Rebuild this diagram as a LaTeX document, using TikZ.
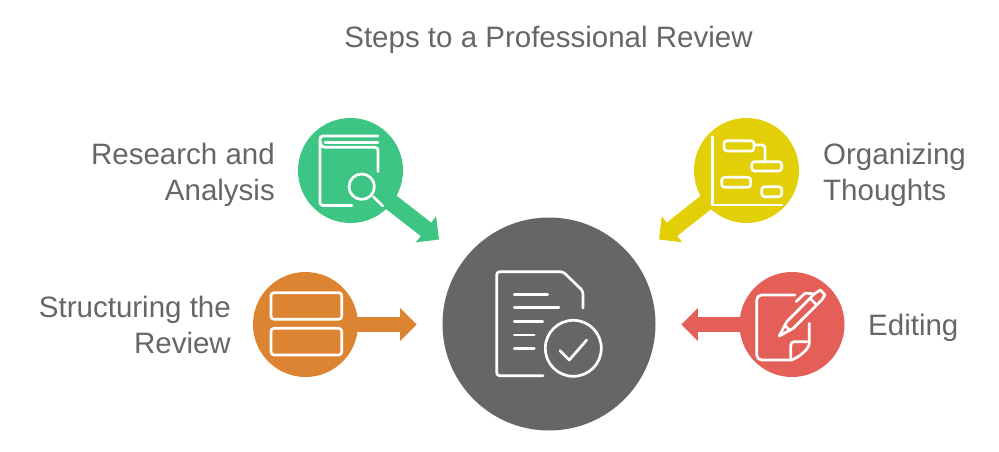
\documentclass[tikz,border=0pt]{standalone}
\usepackage{fontspec}
\setmainfont{Liberation Sans}
\usetikzlibrary{arrows.meta}
\definecolor{cgreen}{HTML}{3CC583}
\definecolor{cyellow}{HTML}{E3CF08}
\definecolor{corange}{HTML}{DC8432}
\definecolor{cred}{HTML}{E55F59}
\definecolor{cdark}{HTML}{666666}
\definecolor{ctext}{HTML}{666666}
\tikzset{
  disc/.style={circle,fill=#1,minimum size=105pt,inner sep=0pt,outer sep=0pt},
  flow/.style={line width=15pt,draw=#1,-{Triangle[length=16.5pt,width=32pt,fill=#1]}},
  icon/.style={draw=white,line width=2.7pt,line cap=round,line join=round,rounded corners=3pt},
  iconc/.style={draw=white,line width=2.7pt,line cap=round,line join=round},
  lbl/.style={text=ctext,font=\fontsize{29.5}{36}\selectfont,inner sep=0pt,align=#1},
}
\begin{document}
\begin{tikzpicture}[x=1pt,y=-1pt]
\useasboundingbox (0,0) rectangle (999,452);
\coordinate (tg) at (439,239.5);
\coordinate (ty) at (659,239.5);
\coordinate (to) at (416.7,324.5);
\coordinate (tr) at (681.3,324.5);
\coordinate (sg) at (350.5,170.5);
\coordinate (sy) at (746.5,170.5);
\coordinate (so) at (305.5,324.5);
\coordinate (sr) at (792,324.5);
\draw[flow=cgreen,line width=17pt] (sg) -- (tg);
\draw[flow=cyellow,line width=17pt] (sy) -- (ty);
\draw[flow=corange] (so) -- (to);
\draw[flow=cred] (sr) -- (tr);
\node[disc=cgreen] (green) at (sg) {};
\node[disc=cyellow] (yellow) at (sy) {};
\node[disc=corange] (orange) at (so) {};
\node[disc=cred] (red) at (sr) {};
\node[disc=cdark,minimum size=213pt] (main) at (549,324) {};
\node[lbl=center,anchor=center] (title) at (548.5,40) {Steps to a Professional Review};
\node[lbl=right,anchor=east] (research) at (275,174.5) {Research and\\Analysis};
\node[lbl=right,anchor=east] (structuring) at (231,325) {Structuring the\\Review};
\node[lbl=left,anchor=west] (organizing) at (823,174.5) {Organizing\\Thoughts};
\node[lbl=left,anchor=west] (editing) at (868,328) {Editing};
% book
\draw[icon] (378,136) -- (320,136) -- (320,205.5) -- (352,205.5);
\draw[iconc] (378,142.7) -- (325,142.7);
\draw[iconc] (320,141) .. controls (320,145) and (322,147.3) .. (326,147.3);
\draw[icon] (326,147.3) -- (378,147.3) -- (378,171.5);
\draw[iconc] (361.7,186.7) circle (12.7);
\draw[iconc] (373.3,196.7) -- (382.7,206);
% gantt
\draw[iconc] (712.3,136.7) -- (712.3,205) -- (781.7,205);
\draw[icon] (724,140.7) rectangle (754,151);
\draw[icon] (751.7,161.7) rectangle (781.7,171);
\draw[icon] (721.7,177.3) rectangle (750.7,187.3);
\draw[icon] (761.7,186.7) rectangle (781.7,196.7);
\draw[icon] (754,145) -- (765,145) -- (765,161.7);
% rows
\draw[icon] (271,292.7) rectangle (341.7,319.3);
\draw[icon] (271,328.3) rectangle (341.7,355);
% editing
\draw[icon,rounded corners=5pt] (795,295) -- (756.7,295) -- (756.7,360) -- (791.7,360);
\draw[iconc] (791.7,360) .. controls (797,358) and (809.3,350) .. (809.3,343) -- (809.3,323.3);
\draw[iconc] (790.7,358) -- (790.7,346) .. controls (790.7,343) and (792,341.7) .. (794,341.7) -- (807,341.7);
\draw[iconc] (779.3,336) -- (786.7,321.7) -- (815,293.3) -- (820.5,290) -- (825,295) -- (821.7,300) -- (793.3,328.3) -- cycle;
\draw[iconc] (785,325.5) -- (789,329.5);
\draw[iconc] (810,298.3) -- (816.7,305);
\draw[iconc] (796,301.7) -- (805,293.3) -- (812,293.5);
% document
\draw[icon] (543,375.7) -- (496.7,375.7) -- (496.7,271.7) -- (563,271.7) -- (583,291) -- (583,308);
\foreach \y/\x in {294.3/547.7,307.7/559,321.3/542.7,335/534.3,348.7/534.3}
  \draw[iconc] (514.3,\y) -- (\x,\y);
\draw[iconc] (573.3,348.3) circle (28);
\draw[iconc] (560,350.7) -- (569.3,360) -- (586.7,340);
\end{tikzpicture}
\end{document}
